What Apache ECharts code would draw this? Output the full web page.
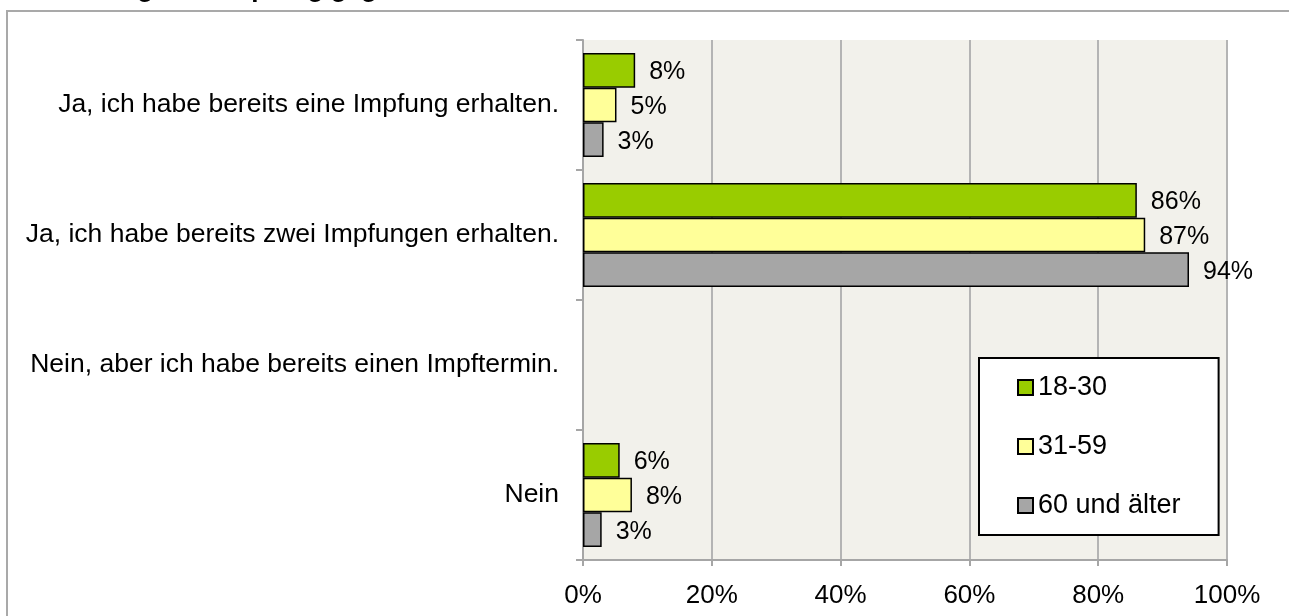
<!DOCTYPE html>
<html>
<head>
<meta charset="utf-8">
<script src="https://cdn.jsdelivr.net/npm/echarts@6/dist/echarts.min.js"></script>
<style>
html, body {margin:0; padding:0; background:#fff;}
#bar1 {width:1289px; height:616px;}
</style>
</head>
<body>
<div id="bar1"></div>
<script>
var categories = ['Ja, ich habe bereits eine Impfung erhalten.','Ja, ich habe bereits zwei Impfungen erhalten.','Nein, aber ich habe bereits einen Impftermin.','Nein'];
var groups = ['18-30','31-59','60 und älter'];
var values1830 = [8.1, 86.0, null, 5.7];
var values3159 = [5.2, 87.3, null, 7.6];
var values60 = [3.2, 94.1, null, 2.9];
var colors = ['#99cc00','#ffff99','#a6a6a6'];
var xMin = 0, xMax = 100, xStep = 20;

(function setbar1(){
    var chartBar1 = echarts.init(document.getElementById('bar1'));
    var font = "'Liberation Sans', Arial, sans-serif";

    function makeSeries(name, data, color){
        return {
            name: name,
            type: 'bar',
            barGap: 0,
            barCategoryGap: '20%',
            itemStyle: {color: color, borderColor: '#000', borderWidth: 1.5},
            label: {
                show: true,
                position: 'right',
                distance: 14,
                offset: [0, 2],
                fontFamily: font,
                fontSize: 25,
                color: '#000',
                formatter: function (p) { return Math.round(p.value) + '%'; }
            },
            data: data
        };
    }

    var option = {
        animation: false,
        textStyle: {fontFamily: font},
        // Titel liegt oben ausserhalb des Bildes, nur die Unterlaengen sind sichtbar
        title: {
            text: 'Umfrage zur Impfung gegen Covid-19',
            left: 57,
            top: -28,
            textStyle: {fontSize: 26, fontWeight: 'bold', color: '#000', fontFamily: font}
        },
        graphic: [{
            type: 'rect',
            shape: {x: 7, y: 11, width: 1400, height: 700},
            style: {fill: 'none', stroke: '#a9a9a9', lineWidth: 2},
            silent: true
        }],
        grid: {left: 583, right: 62, top: 40, bottom: 56, show: true, backgroundColor: '#f2f1eb', borderWidth: 0},
        legend: {
            orient: 'vertical',
            left: 979,
            top: 358,
            padding: [16, 38, 16, 38],
            itemGap: 32,
            itemWidth: 15,
            itemHeight: 15,
            icon: 'rect',
            backgroundColor: '#fff',
            borderColor: '#000',
            borderWidth: 2,
            textStyle: {fontSize: 27, color: '#000', fontFamily: font, lineHeight: 27},
            data: groups
        },
        xAxis: {
            type: 'value',
            min: xMin,
            max: xMax,
            interval: xStep,
            axisLine: {show: true, lineStyle: {color: '#a6a6a6', width: 2}},
            axisTick: {show: true, length: 6, lineStyle: {color: '#a6a6a6', width: 2}},
            axisLabel: {formatter: '{value}%', fontSize: 26, color: '#000', margin: 23, fontFamily: font},
            splitLine: {show: true, lineStyle: {color: '#b4b4b4', width: 2}}
        },
        yAxis: {
            type: 'category',
            inverse: true,
            data: categories,
            axisLine: {show: true, lineStyle: {color: '#a6a6a6', width: 2}},
            axisTick: {show: true, length: 7, lineStyle: {color: '#a6a6a6', width: 2}},
            axisLabel: {fontSize: 26.5, color: '#000', margin: 24, fontFamily: font},
            splitLine: {show: false}
        },
        series: [
            makeSeries(groups[0], values1830, colors[0]),
            makeSeries(groups[1], values3159, colors[1]),
            makeSeries(groups[2], values60, colors[2])
        ]
    };

    chartBar1.setOption(option);
})();
</script>
</body>
</html>
